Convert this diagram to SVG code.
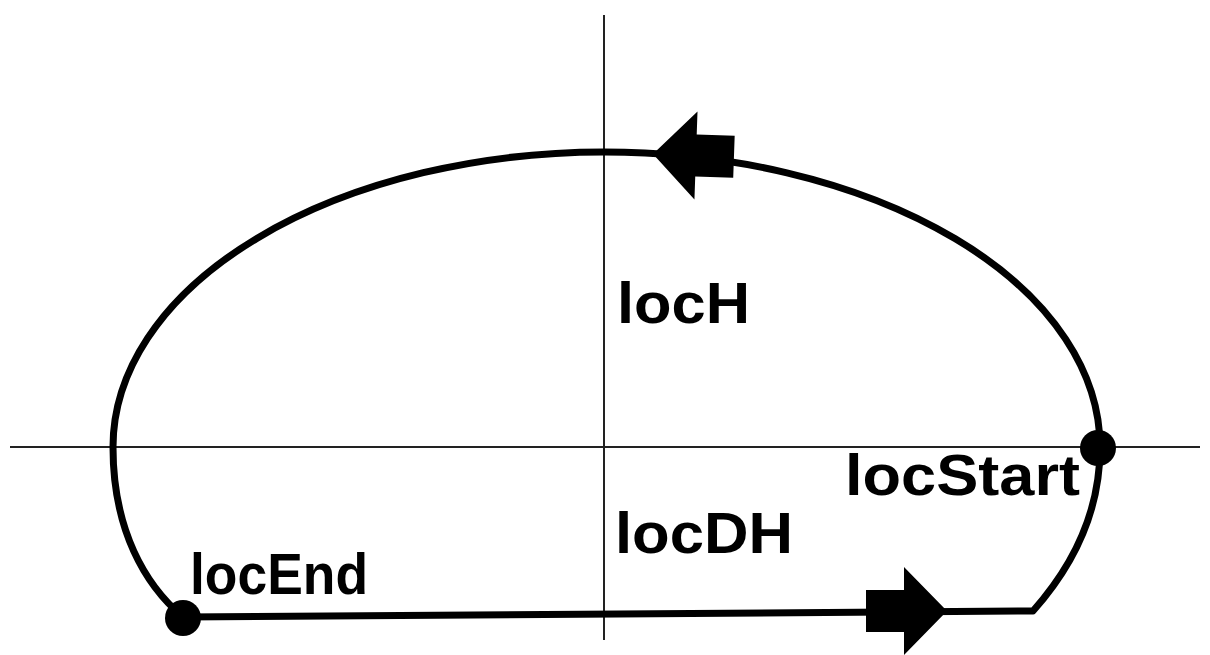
<svg xmlns="http://www.w3.org/2000/svg" width="1210" height="655" viewBox="0 0 1210 655">
<style>
.axis{stroke:#222;stroke-width:2;fill:none}
.curve{stroke:#000;stroke-width:7;fill:none;stroke-linejoin:round}
.lbl{font-family:"Liberation Sans",Arial,sans-serif;font-size:58px;font-weight:bold;fill:#000}
.dot{fill:#000}
</style>
<defs>
<path id="blk" d="M0 0 L-43 -44 L-43 -21 L-81 -21 L-81 21 L-43 21 L-43 44 Z" fill="#000"/>
</defs>
<g id="axes">
<line class="axis" x1="604" y1="15" x2="604" y2="640"/>
<line class="axis" x1="10" y1="447" x2="1200" y2="447"/>
</g>
<g id="connectors">
<path class="curve" d="M1100 448 A496 295 0 0 0 604 152 A491 295 0 0 0 113 447 C113 530 145 585 183 617 L1033 611 C1065 575 1100 520 1100 448"/>
<use href="#blk" transform="translate(947,611)"/>
<use href="#blk" transform="translate(653,154) rotate(182)"/>
</g>
<g id="locStart">
<circle class="dot" cx="1098" cy="448" r="18"/>
<text class="lbl" x="845" y="495" textLength="235" lengthAdjust="spacingAndGlyphs">locStart</text>
</g>
<g id="locEnd">
<circle class="dot" cx="183" cy="618" r="18"/>
<text class="lbl" x="190" y="594" textLength="178" lengthAdjust="spacingAndGlyphs">locEnd</text>
</g>
<g id="locH">
<text class="lbl" x="617" y="323" textLength="133" lengthAdjust="spacingAndGlyphs">locH</text>
</g>
<g id="locDH">
<text class="lbl" x="615" y="553" textLength="178" lengthAdjust="spacingAndGlyphs">locDH</text>
</g>
</svg>
